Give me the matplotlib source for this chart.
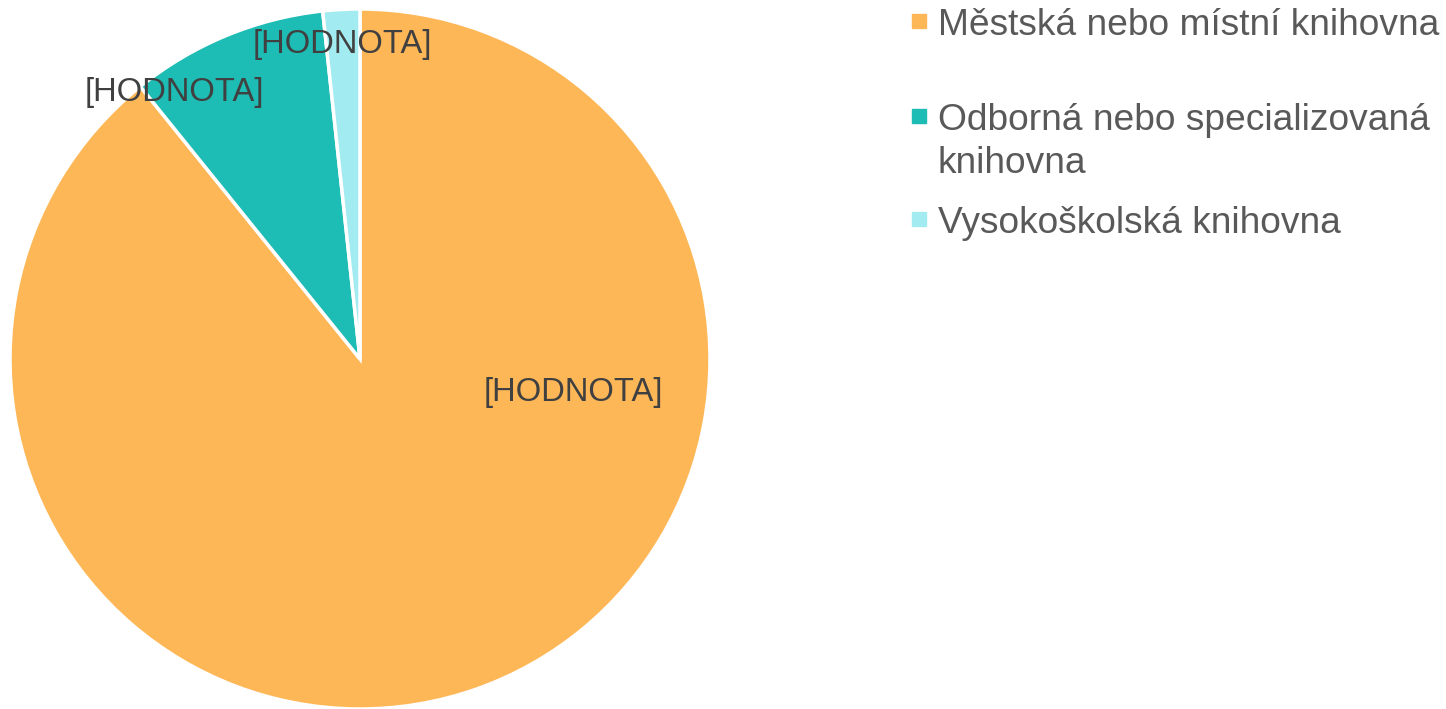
import matplotlib
matplotlib.use("Agg")
import matplotlib.pyplot as plt
from matplotlib.patches import Rectangle

plt.rcParams["font.family"] = ["Liberation Sans", "DejaVu Sans"]

categories = ["Městská nebo místní knihovna",
              "Odborná nebo specializovaná\nknihovna",
              "Vysokoškolská knihovna"]
values = [89.2, 9.1, 1.7]
colors = ["#FEB757", "#1DBCB4", "#A2EBF0"]
data_labels = ["[HODNOTA]", "[HODNOTA]", "[HODNOTA]"]

W, H = 1446, 709
fig = plt.figure(figsize=(W / 100, H / 100), dpi=100)

# pie centre (360, 359) px from top, radius 350 px
cx, cy, r = 360, 359, 350
ax = fig.add_axes([(cx - r) / W, (H - cy - r) / H, 2 * r / W, 2 * r / H])
ax.pie(values, colors=colors, startangle=90, counterclock=False, radius=1,
       wedgeprops=dict(edgecolor="white", linewidth=2.5))
ax.set_xlim(-1, 1)
ax.set_ylim(-1, 1)
ax.set_aspect("auto")
ax.axis("off")

label_pos = [(0.61, -0.095), (-0.53, 0.76), (-0.05, 0.90)]
for txt, (x, y) in zip(data_labels, label_pos):
    ax.text(x, y, txt, ha="center", va="center", fontsize=23.6, color="#404040")

# legend drawn by hand (Excel-like layout)
baselines = [35, 130, 233]
line_gap = 43
for lab, col, base in zip(categories, colors, baselines):
    fig.patches.append(Rectangle((912 / W, 1 - (base - 7) / H), 14 / W, 14 / H,
                                 transform=fig.transFigure, color=col))
    for i, line in enumerate(lab.split("\n")):
        fig.text(938 / W, 1 - (base + i * line_gap) / H, line, ha="left",
                 va="baseline", fontsize=26.7, color="#595959")

fig.savefig("out.png", dpi=100)
